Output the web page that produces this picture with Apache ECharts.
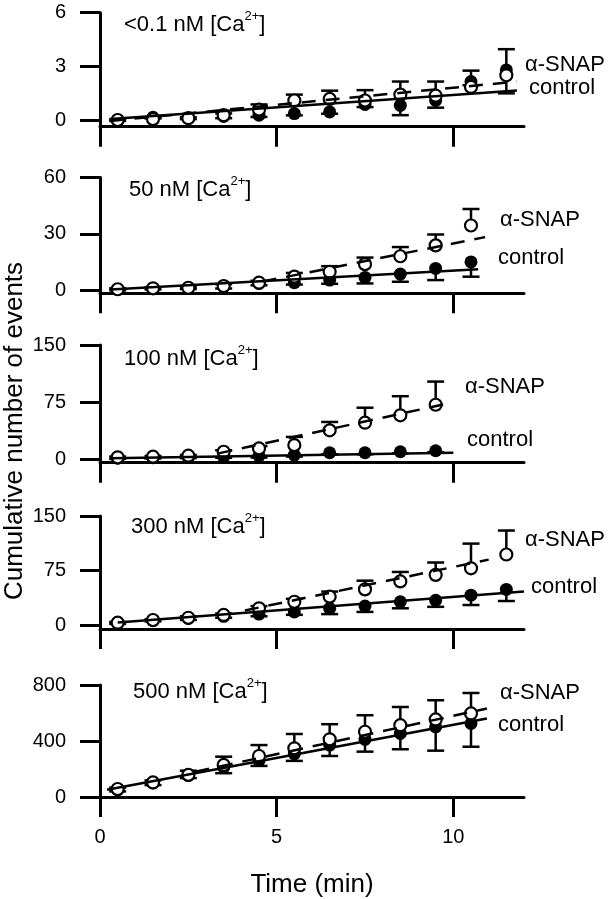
<!DOCTYPE html>
<html><head><meta charset="utf-8">
<script src="https://cdn.jsdelivr.net/npm/echarts@6/dist/echarts.min.js"></script>
<style>html,body{margin:0;padding:0;background:#fff}#c{width:612px;height:899px}</style>
</head><body><div id="c"></div>
<script>
// ---------- DATA ----------
const time = [0.5, 1.5, 2.5, 3.5, 4.5, 5.5, 6.5, 7.5, 8.5, 9.5, 10.5, 11.5];
const xTickValues = [0, 5, 10];
const concLabels = ['<0.1', '50', '100', '300', '500'];
const yMaxes = [6, 60, 150, 150, 800];
const yTickValues = [[0, 3, 6], [0, 30, 60], [0, 75, 150], [0, 75, 150], [0, 400, 800]];

// <0.1 nM
const snap1 = [0.0, 0.05, 0.1, 0.27, 0.58, 1.09, 1.18, 1.09, 1.42, 1.36, 1.85, 2.5];
const ctrl1 = [0.0, 0.15, 0.1, 0.2, 0.27, 0.36, 0.45, 0.87, 0.82, 1.09, 2.15, 2.8];
const snapErr1 = [0.05, 0.05, 0.05, 0.1, 0.29, 0.33, 0.46, 0.58, 0.73, 0.79, 0.91, 1.46];
const ctrlErr1 = [0.05, 0.05, 0.05, 0.1, 0.1, 0.1, 0.1, 0.15, 0.55, 0.4, 0.2, 1.31];
const ctrlFit1 = [[0.3, 0.05], [11.8, 1.65]];
const snapFit1 = [[0.3, -0.05], [11.8, 2.15]];

// 50 nM
const snap2 = [0.4, 0.9, 1.2, 2.1, 3.9, 7.1, 9.7, 13.8, 18, 23.8, 34.4];
const ctrl2 = [0.3, 0.8, 1.0, 1.8, 3.5, 3.9, 5.3, 6.7, 8.5, 11.5, 15];
const snapErr2 = [0.5, 0.5, 0.5, 1, 1, 2, 3.0, 3.5, 4.9, 5.8, 8.8];
const ctrlErr2 = [0.5, 0.5, 0.5, 1, 1, 1, 2, 3.2, 4.1, 6.2, 7.9];
const ctrlFit2 = [[0.3, 0.3], [10.7, 11.1]];
const snapFit2 = [[4.6, 4.5], [10.9, 28.2]];

// 100 nM
const snap3 = [2.6, 3.4, 4.7, 9.9, 14.3, 18.6, 38, 48, 57.7, 71.6];
const ctrl3 = [1.5, 2, 2.5, 3, 4.3, 5.6, 8.6, 8.6, 9.9, 11.2];
const snapErr3 = [1, 1, 1, 2, 3, 10.8, 11, 19.7, 25.1, 30.4];
const ctrlErr3 = [1, 1, 1, 1, 2, 2, 2, 2, 2, 2];
const ctrlFit3 = [[0.3, 1.3], [10.0, 8.6]];
const snapFit3 = [[3.35, 7.8], [9.82, 73]];

// 300 nM
const snap4 = [3.2, 6.9, 10, 13.8, 23, 32, 39, 49, 60, 69, 78, 97];
const ctrl4 = [2.5, 6, 9, 12, 15, 18, 23, 26, 32, 34, 41, 49];
const snapErr4 = [1, 1, 2, 2, 3, 4, 7, 12, 13, 17, 34, 33];
const ctrlErr4 = [1, 1, 2, 2, 3, 4, 8, 8, 9, 9, 13.5, 16];
const ctrlFit4 = [[0.5, 3.6], [12, 46]];
const snapFit4 = [[4.1, 20], [11, 90]];

// 500 nM
const snap5 = [57, 104, 158, 229, 293, 348, 412, 466, 513, 554, 597];
const ctrl5 = [50, 100, 155, 213, 260, 307, 371, 412, 454, 501, 525];
const snapErr5 = [10, 15, 30, 59, 78, 102, 108, 118, 130, 137, 146];
const ctrlErr5 = [10, 15, 20, 43, 38, 49, 78, 88, 113, 170, 166];
const ctrlFit5 = [[0.2, 52], [10.95, 561]];
const snapFit5 = [[2.7, 180], [10.95, 632]];

const panels = [
  {snap: snap1, ctrl: ctrl1, snapErr: snapErr1, ctrlErr: ctrlErr1, ctrlFit: ctrlFit1, snapFit: snapFit1},
  {snap: snap2, ctrl: ctrl2, snapErr: snapErr2, ctrlErr: ctrlErr2, ctrlFit: ctrlFit2, snapFit: snapFit2},
  {snap: snap3, ctrl: ctrl3, snapErr: snapErr3, ctrlErr: ctrlErr3, ctrlFit: ctrlFit3, snapFit: snapFit3},
  {snap: snap4, ctrl: ctrl4, snapErr: snapErr4, ctrlErr: ctrlErr4, ctrlFit: ctrlFit4, snapFit: snapFit4},
  {snap: snap5, ctrl: ctrl5, snapErr: snapErr5, ctrlErr: ctrlErr5, ctrlFit: ctrlFit5, snapFit: snapFit5}
];

// ---------- LAYOUT ----------
const FONT = '"Liberation Sans", Arial, Helvetica, sans-serif';
const gridLayout = [
  {top: 12.7, bottom: 126.7, zero: 120},
  {top: 177.5, bottom: 293.3, zero: 290},
  {top: 345, bottom: 462.7, zero: 459.3},
  {top: 516, bottom: 629, zero: 625},
  {top: 685, bottom: 797.5, zero: 797.5}
];
const titlePos = [[124, 23], [129, 188], [124, 357], [131, 525], [133, 690]];
const snapLabelPos = [[525, 65], [500, 220], [465, 387], [525, 540], [500, 693]];
const ctrlLabelPos = [[529, 88], [498, 258], [467, 440], [531, 587], [498, 725]];

const grids = [], xAxes = [], yAxes = [], series = [], graphics = [];
const axisStyle = {color: '#000', width: 3};

function errRender(params, api) {
  const p0 = api.coord([api.value(0), api.value(1)]);
  const p1 = api.coord([api.value(0), api.value(2)]);
  return {type: 'group', children: [
    {type: 'line', shape: {x1: p0[0], y1: p0[1], x2: p1[0], y2: p1[1]}, style: {stroke: '#000', lineWidth: 2.5}},
    {type: 'line', shape: {x1: p1[0] - 8.5, y1: p1[1], x2: p1[0] + 8.5, y2: p1[1]}, style: {stroke: '#000', lineWidth: 2.5}}
  ]};
}

panels.forEach((p, i) => {
  const g = gridLayout[i];
  const yMax = yMaxes[i];
  const yMin = yMax - yMax * (g.bottom - g.top) / (g.zero - g.top);
  grids.push({left: 100, width: 424, top: g.top, height: g.bottom - g.top});
  xAxes.push({
    gridIndex: i, type: 'value', min: 0, max: 12,
    axisLine: {onZero: false, lineStyle: axisStyle},
    axisTick: {customValues: xTickValues, length: 20, lineStyle: axisStyle},
    axisLabel: {show: i === 4, customValues: xTickValues, margin: 30, fontSize: 20, color: '#000', fontFamily: FONT},
    splitLine: {show: false},
    name: i === 4 ? 'Time (min)' : '', nameLocation: 'middle', nameGap: 75,
    nameTextStyle: {fontSize: 26, color: '#000', fontFamily: FONT}
  });
  yAxes.push({
    gridIndex: i, type: 'value', min: yMin, max: yMax,
    axisLine: {show: true, onZero: false, lineStyle: axisStyle},
    axisTick: {show: true, customValues: yTickValues[i], length: 20, lineStyle: axisStyle},
    axisLabel: {customValues: yTickValues[i], margin: 34, fontSize: 20, color: '#000', fontFamily: FONT},
    splitLine: {show: false}
  });
  const n = p.snap.length;
  const t = time.slice(0, n);
  series.push({
    type: 'custom', xAxisIndex: i, yAxisIndex: i, z: 1, renderItem: errRender, silent: true,
    data: t.map((x, k) => [x, p.snap[k], p.snap[k] + p.snapErr[k]])
  });
  series.push({
    type: 'custom', xAxisIndex: i, yAxisIndex: i, z: 1, renderItem: errRender, silent: true,
    data: t.map((x, k) => [x, p.ctrl[k], p.ctrl[k] - p.ctrlErr[k]])
  });
  series.push({
    type: 'scatter', xAxisIndex: i, yAxisIndex: i, z: 2, symbol: 'circle', symbolSize: 13,
    itemStyle: {color: '#000', opacity: 1}, data: t.map((x, k) => [x, p.ctrl[k]])
  });
  series.push({
    type: 'scatter', xAxisIndex: i, yAxisIndex: i, z: 3, symbol: 'circle', symbolSize: 12,
    itemStyle: {color: '#fff', borderColor: '#000', borderWidth: 2.2, opacity: 1}, data: t.map((x, k) => [x, p.snap[k]])
  });
  series.push({
    type: 'line', xAxisIndex: i, yAxisIndex: i, z: 4, showSymbol: false, symbol: 'none',
    lineStyle: {color: '#000', width: 2.5}, data: p.ctrlFit
  });
  series.push({
    type: 'line', xAxisIndex: i, yAxisIndex: i, z: 4, showSymbol: false, symbol: 'none',
    lineStyle: {color: '#000', width: 2.5, type: [14, 10]}, data: p.snapFit
  });
  graphics.push({
    type: 'text', x: titlePos[i][0], y: titlePos[i][1],
    style: {
      text: '{a|' + concLabels[i] + ' nM [Ca}{s|2+}{a|]}',
      rich: {
        a: {fontSize: 22, fontFamily: FONT, fill: '#000', lineHeight: 26, verticalAlign: 'bottom'},
        s: {fontSize: 13, fontFamily: FONT, fill: '#000', lineHeight: 26, verticalAlign: 'top'}
      },
      textVerticalAlign: 'middle', textAlign: 'left'
    }
  });
  graphics.push({type: 'text', x: snapLabelPos[i][0], y: snapLabelPos[i][1],
    style: {text: 'α-SNAP', fontSize: 22, fontFamily: FONT, fill: '#000', textVerticalAlign: 'middle'}});
  graphics.push({type: 'text', x: ctrlLabelPos[i][0], y: ctrlLabelPos[i][1],
    style: {text: 'control', fontSize: 22, fontFamily: FONT, fill: '#000', textVerticalAlign: 'middle'}});
});

graphics.push({type: 'text', x: 15, y: 431, rotation: Math.PI / 2,
  style: {text: 'Cumulative number of events', fontSize: 26, fontFamily: FONT, fill: '#000',
    textAlign: 'center', textVerticalAlign: 'middle'}});

const chart = echarts.init(document.getElementById('c'), null, {renderer: 'canvas'});
chart.setOption({
  animation: false,
  backgroundColor: '#fff',
  grid: grids, xAxis: xAxes, yAxis: yAxes, series: series, graphic: graphics
});
</script></body></html>
